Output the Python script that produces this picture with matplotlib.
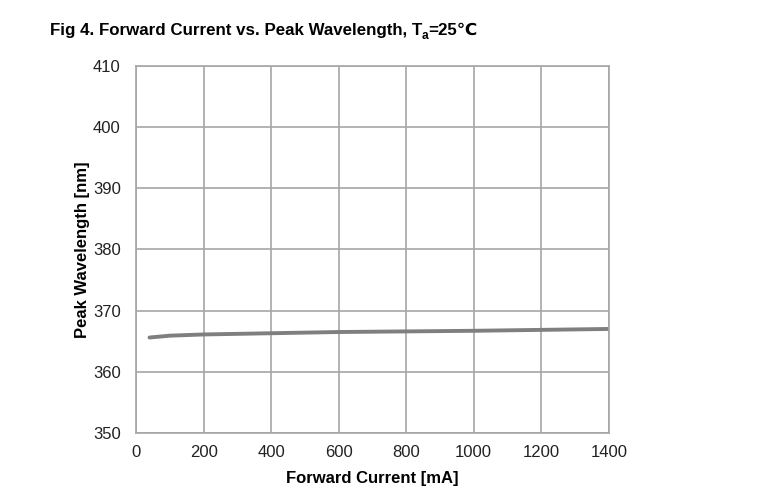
import matplotlib
matplotlib.use('Agg')
import matplotlib.pyplot as plt

plt.rcParams['font.family'] = ['Liberation Sans', 'DejaVu Sans']

# forward current [mA] vs peak wavelength [nm]
current = [40, 100, 200, 400, 600, 800, 1000, 1200, 1400]
wavelength = [365.6, 365.9, 366.1, 366.3, 366.5, 366.6, 366.7, 366.85, 367.0]

x_ticks = [0, 200, 400, 600, 800, 1000, 1200, 1400]
y_ticks = [350, 360, 370, 380, 390, 400, 410]

fig = plt.figure(figsize=(7.62, 5.01), dpi=100)
ax = fig.add_axes([0.1785, 0.136, 0.6205, 0.732])

ax.plot(current, wavelength, color='#7f7f7f', lw=2.8, solid_capstyle='round')

ax.set_xlim(0, 1400)
ax.set_ylim(350, 410)
ax.set_xticks(x_ticks)
ax.set_yticks(y_ticks)
ax.grid(True, color='#a6a6a6', lw=1.2)
ax.set_axisbelow(True)
for s in ax.spines.values():
    s.set_color('#a6a6a6')
    s.set_linewidth(1.2)
ax.tick_params(length=0, labelsize=12, colors='#222222')
ax.tick_params(axis='y', pad=11)
ax.tick_params(axis='x', pad=9)

ax.set_xlabel('Forward Current [mA]', fontsize=12, fontweight='bold', labelpad=8)
ax.set_ylabel('Peak Wavelength [nm]', fontsize=12, fontweight='bold', labelpad=2)

# title built from pieces so the subscript and the degree sign both render
fs = 12.2
base_y = 0.931
t1 = fig.text(0.065, base_y, 'Fig 4. Forward Current vs. Peak Wavelength, T',
              fontsize=fs, fontweight='bold', va='baseline', ha='left')
fig.canvas.draw()
r = fig.canvas.get_renderer()
x1 = fig.transFigure.inverted().transform((t1.get_window_extent(r).x1, 0))[0]
t2 = fig.text(x1, base_y - 0.009, 'a', fontsize=fs * 0.7, fontweight='bold',
              va='baseline', ha='left')
fig.canvas.draw()
x2 = fig.transFigure.inverted().transform((t2.get_window_extent(r).x1, 0))[0]
fig.text(x2, base_y, '=25\u2103', fontsize=fs, fontweight='bold',
         va='baseline', ha='left')

fig.savefig('out.png', dpi=100)
